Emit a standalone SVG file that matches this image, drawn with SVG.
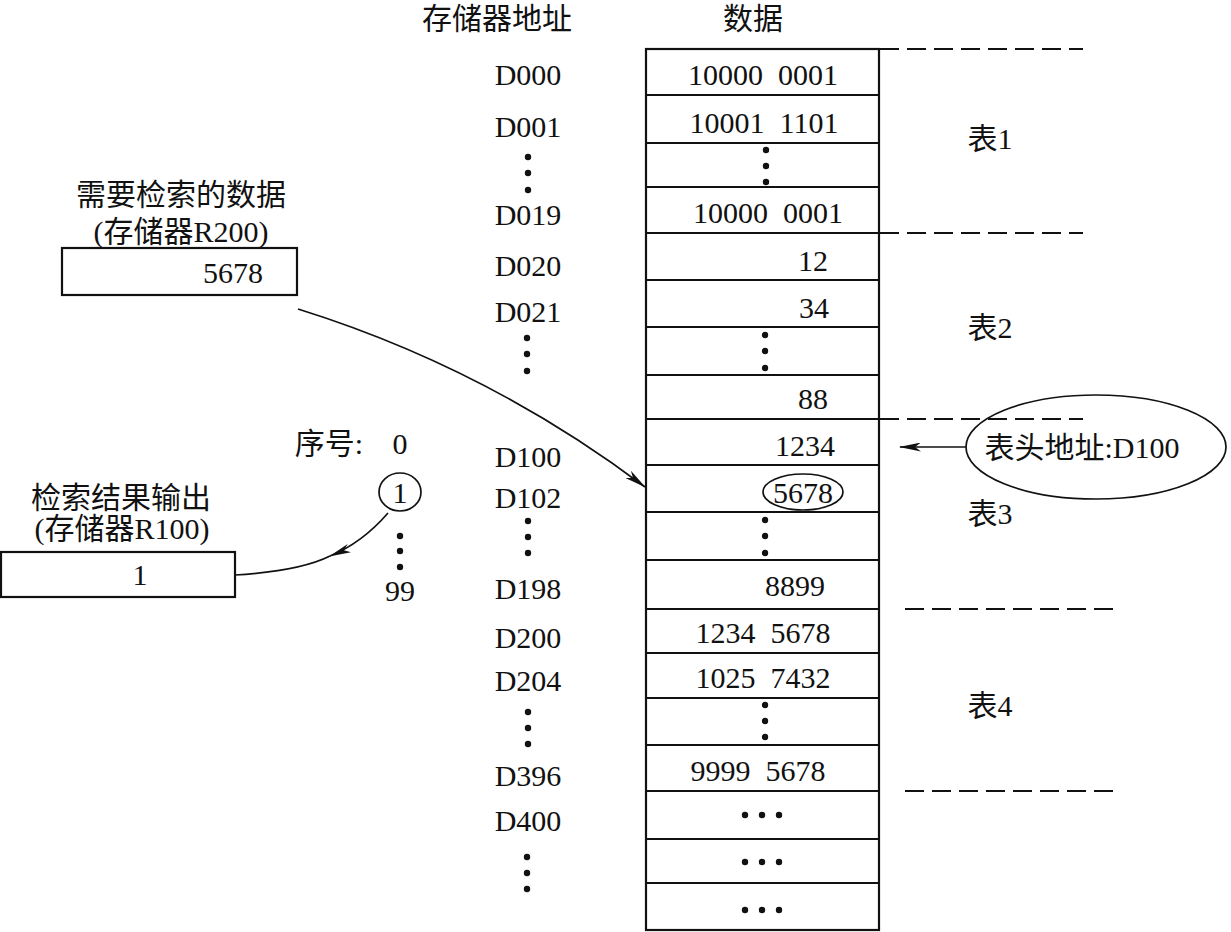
<svg xmlns="http://www.w3.org/2000/svg" width="1231" height="932" viewBox="0 0 1231 932">
<style>
text{font-family:"Liberation Serif","Noto Sans CJK SC",serif;font-size:30px;fill:#111;text-anchor:middle}
.ln{stroke:#111;stroke-width:1.8;fill:none}
.bx{stroke:#111;stroke-width:2.2;fill:#fff}
.dash{stroke:#111;stroke-width:1.8;stroke-dasharray:19 8;fill:none}
.dot{fill:#111}
.cn{stroke:#111;stroke-width:1.7;fill:none}
</style>
<defs>
<marker id="ah" viewBox="0 0 22 9" refX="21" refY="4.5" markerWidth="22" markerHeight="9" markerUnits="userSpaceOnUse" orient="auto">
<path d="M0,0 L22,4.5 L0,9 L6,4.5 Z" fill="#111"/>
</marker>
</defs>
<rect width="1231" height="932" fill="#fff"/>
<g id="headers">
<text x="497" y="29">存储器地址</text>
<text x="753" y="29">数据</text>
</g>
<g id="addresses">
<text x="528" y="85">D000</text>
<text x="528" y="137">D001</text>
<circle class="dot" cx="528" cy="157" r="3.2"/><circle class="dot" cx="528" cy="173" r="3.2"/><circle class="dot" cx="528" cy="190" r="3.2"/>
<text x="528" y="225">D019</text>
<text x="528" y="276">D020</text>
<text x="528" y="322">D021</text>
<circle class="dot" cx="527" cy="338" r="3.2"/><circle class="dot" cx="527" cy="354" r="3.2"/><circle class="dot" cx="527" cy="371" r="3.2"/>
<text x="528" y="467">D100</text>
<text x="528" y="508">D102</text>
<circle class="dot" cx="528" cy="521" r="3.2"/><circle class="dot" cx="528" cy="537" r="3.2"/><circle class="dot" cx="528" cy="553" r="3.2"/>
<text x="528" y="599">D198</text>
<text x="528" y="648">D200</text>
<text x="528" y="691">D204</text>
<circle class="dot" cx="528" cy="712" r="3.2"/><circle class="dot" cx="528" cy="728" r="3.2"/><circle class="dot" cx="528" cy="744" r="3.2"/>
<text x="528" y="786">D396</text>
<text x="528" y="831">D400</text>
<circle class="dot" cx="527" cy="857" r="3.2"/><circle class="dot" cx="527" cy="873" r="3.2"/><circle class="dot" cx="527" cy="889" r="3.2"/>
</g>
<g id="table">
<rect class="bx" x="646" y="49" width="233" height="881" fill="none"/>
<path class="ln" d="M646,95H879M646,143H879M646,187H879M646,233H879M646,280H879M646,327H879M646,375H879M646,419H879M646,465H879M646,512H879M646,560H879M646,609H879M646,653H879M646,698H879M646,745H879M646,791H879M646,839H879M646,883H879"/>
<text x="763" y="85" xml:space="preserve">10000  0001</text>
<text x="764" y="133" xml:space="preserve">10001  1101</text>
<circle class="dot" cx="766" cy="150" r="3.2"/><circle class="dot" cx="766" cy="166" r="3.2"/><circle class="dot" cx="766" cy="182" r="3.2"/>
<text x="768" y="223" xml:space="preserve">10000  0001</text>
<text x="813" y="271">12</text>
<text x="814" y="318">34</text>
<circle class="dot" cx="765" cy="335" r="3.2"/><circle class="dot" cx="765" cy="351" r="3.2"/><circle class="dot" cx="765" cy="368" r="3.2"/>
<text x="813" y="409">88</text>
<text x="805" y="456">1234</text>
<ellipse class="cn" cx="803" cy="492" rx="40" ry="18"/>
<text x="803" y="503">5678</text>
<circle class="dot" cx="765" cy="520" r="3.2"/><circle class="dot" cx="765" cy="536" r="3.2"/><circle class="dot" cx="765" cy="553" r="3.2"/>
<text x="795" y="596">8899</text>
<text x="763" y="643" xml:space="preserve">1234  5678</text>
<text x="763" y="688" xml:space="preserve">1025  7432</text>
<circle class="dot" cx="765" cy="705" r="3.2"/><circle class="dot" cx="765" cy="721" r="3.2"/><circle class="dot" cx="765" cy="737" r="3.2"/>
<text x="758" y="781" xml:space="preserve">9999  5678</text>
<circle class="dot" cx="745" cy="815" r="3.2"/><circle class="dot" cx="762" cy="815" r="3.2"/><circle class="dot" cx="779" cy="815" r="3.2"/>
<circle class="dot" cx="745" cy="862" r="3.2"/><circle class="dot" cx="762" cy="862" r="3.2"/><circle class="dot" cx="779" cy="862" r="3.2"/>
<circle class="dot" cx="745" cy="910" r="3.2"/><circle class="dot" cx="762" cy="910" r="3.2"/><circle class="dot" cx="779" cy="910" r="3.2"/>
</g>
<g id="dividers">
<path class="dash" d="M880,49H1083M880,233H1083M880,419H1083M905,609H1113M905,791H1113"/>
</g>
<g id="table-labels">
<text x="990" y="149">表1</text>
<text x="990" y="338">表2</text>
<text x="990" y="524">表3</text>
<text x="990" y="716">表4</text>
</g>
<g id="head-address">
<ellipse class="cn" cx="1096" cy="447" rx="130" ry="52"/>
<text x="1082" y="458">表头地址:D100</text>
</g>
<g id="search-data">
<text x="181" y="205">需要检索的数据</text>
<text x="181" y="242">(存储器R200)</text>
<rect class="bx" x="62" y="248" width="235" height="47"/>
<text x="233" y="283">5678</text>
</g>
<g id="result-output">
<text x="121" y="508">检索结果输出</text>
<text x="122" y="539">(存储器R100)</text>
<rect class="bx" x="1" y="552" width="234" height="45"/>
<text x="140" y="585">1</text>
</g>
<g id="index">
<text x="329" y="454">序号:</text>
<text x="400" y="454">0</text>
<ellipse class="cn" cx="400" cy="492" rx="21" ry="19"/>
<text x="400" y="503">1</text>
<circle class="dot" cx="400" cy="536" r="3.2"/><circle class="dot" cx="400" cy="551" r="3.2"/><circle class="dot" cx="400" cy="567" r="3.2"/>
<text x="400" y="601">99</text>
</g>
<g id="connectors">
<path class="cn" d="M298,309 Q487,368 645,487" marker-end="url(#ah)"/>
<path class="cn" d="M966,447 H900" marker-end="url(#ah)"/>
<path class="cn" d="M388,513 Q362,543 330,556" marker-end="url(#ah)"/>
<path class="cn" d="M330,556 Q300,571 235,575"/>
</g>
</svg>
